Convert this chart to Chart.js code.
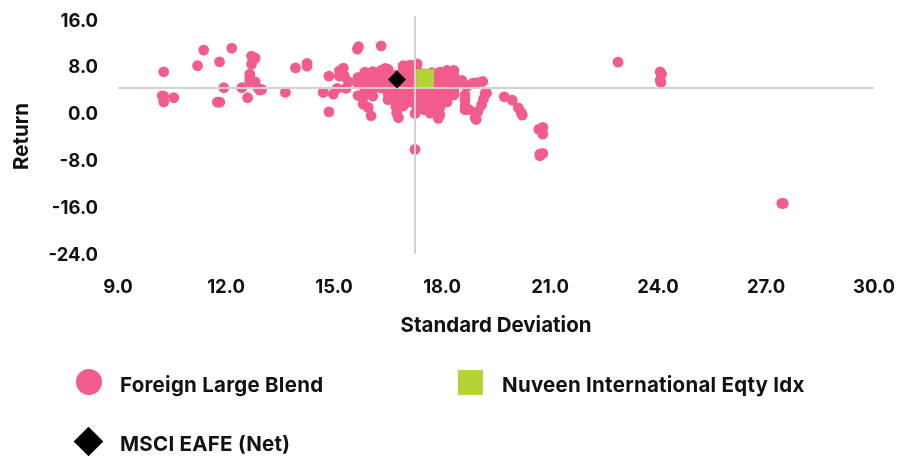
<!DOCTYPE html>
<html>
<head>
<meta charset="utf-8">
<title>Risk and return</title>
<script src="https://cdn.jsdelivr.net/npm/chart.js@4/dist/chart.umd.min.js"></script>
<style>
  html, body { margin: 0; background: #fff; }
  #wrap { position: relative; width: 897px; height: 456px; overflow: hidden; }
  #legend span { position: absolute; font: 700 20.5px Inter, sans-serif; letter-spacing: 0.25px; color: #111; line-height: 24px; white-space: nowrap; }
  #legend i { position: absolute; display: block; }
</style>
</head>
<body>
<div id="wrap">
  <canvas id="riskChart" width="897" height="456"></canvas>
  <div id="legend"></div>
</div>
<script>
const pink = '#f25c8c';
const green = '#b5d334';
const black = '#000000';
const grey = '#d2d2d2';

const seriesNames = ['Foreign Large Blend', 'Nuveen International Eqty Idx', 'MSCI EAFE (Net)'];

// peer group (std dev, return)
const peerDev = [
  10.27, 10.23, 10.27, 10.27, 10.55, 11.21, 11.38, 11.82, 12.16, 11.94, 11.76, 11.83,
  12.44, 12.6, 12.71, 12.81, 12.71, 12.66, 12.66, 12.66, 12.81, 12.94, 12.9, 12.99,
  13.65, 13.93, 14.25, 14.25, 14.7, 14.86, 14.86, 14.98, 15.09, 15.15, 15.26, 15.15,
  15.29, 15.4, 15.33, 15.68, 15.65, 16.31, 15.81, 15.95, 16.03, 16.42,
  15.67, 15.67, 15.67,
  15.86, 15.86, 15.86, 15.86, 15.86,
  16.08, 16.08, 16.08, 16.08, 16.08,
  16.31, 16.31, 16.31, 16.31, 16.31,
  16.5, 16.5, 16.5, 16.5, 16.5, 16.5,
  16.72, 16.72, 16.72, 16.72, 16.72, 16.72,
  16.92, 16.92, 16.92, 16.92, 16.92, 16.92, 16.92, 16.92,
  17.11, 17.11, 17.11, 17.11, 17.11, 17.11, 17.11,
  17.31, 17.31, 17.31, 17.31, 17.31, 17.31, 17.31, 17.31,
  17.5, 17.5, 17.5, 17.5, 17.5,
  17.72, 17.72, 17.72, 17.72, 17.72, 17.72, 17.72,
  17.94, 17.94, 17.94, 17.94, 17.94, 17.94, 17.94,
  18.14, 18.14, 18.14, 18.14, 18.14, 18.14,
  18.33, 18.33, 18.33, 18.33, 18.33,
  18.53, 18.55,
  15.97, 15.97, 15.97, 16.2, 16.2, 16.2, 16.41, 16.6, 16.6, 16.82, 16.82, 17.2,
  17.2, 17.4, 17.4, 17.6, 17.6, 17.83, 17.83, 18.04, 18.04, 18.04, 18.24, 18.24,
  18.64, 18.64, 18.64, 18.64, 18.75, 18.92, 18.95, 19.0, 19.1, 19.15, 19.24, 19.2,
  18.7, 18.86, 18.97, 19.13, 18.65,
  16.79, 16.74, 17.25, 17.25, 17.67, 17.9,
  19.73, 19.95, 20.12, 20.23, 20.2,
  20.69, 20.8, 20.8, 20.72, 20.72, 20.8,
  22.89, 24.06, 24.1, 24.06, 24.08, 27.44, 27.48
];
const peerRet = [
  7.06, 2.96, 1.93, 2.9, 2.62, 8.09, 10.77, 8.77, 11.11, 4.33, 1.88, 1.88,
  4.33, 2.62, 9.74, 9.4, 8.38, 6.67, 5.93, 5.35, 5.35, 3.93, 4.22, 4.05,
  3.54, 7.74, 8.5, 8.03, 3.54, 6.32, 0.22, 3.25, 4.22, 7.23, 7.69, 6.32,
  6.32, 5.35, 4.22, 11.34, 10.94, 11.5, 1.54, 0.97, -0.46, 7.64,
  3.0, 5.0, 6.1,
  3.0, 4.2, 5.4, 6.3, 7.0,
  2.9, 4.1, 5.2, 6.1, 7.1,
  4.3, 4.6, 5.0, 6.2, 7.3,
  2.3, 3.4, 4.6, 5.7, 6.6, 7.5,
  1.1, 2.0, 3.2, 4.4, 5.2, 6.5,
  1.2, 1.5, 2.7, 3.8, 4.9, 6.1, 7.3, 8.1,
  1.9, 2.2, 3.3, 4.5, 5.7, 6.8, 8.2,
  1.0, 2.0, 3.2, 4.4, 5.3, 6.5, 7.2, 8.4,
  0.6, 1.8, 2.9, 4.1, 6.7,
  0.2, 1.2, 2.4, 3.6, 4.8, 6.0, 6.9,
  -0.3, 0.9, 2.1, 3.4, 4.7, 5.9, 7.0,
  1.9, 3.0, 4.2, 5.4, 6.5, 7.3,
  3.1, 3.8, 5.0, 6.3, 7.3,
  5.0, 5.6,
  3.6, 4.8, 5.8, 4.7, 5.6, 6.6, 5.5, 3.0, 4.0, 2.4, 3.4, 2.7,
  3.9, 2.5, 3.8, 2.4, 3.5, 3.0, 4.2, 2.7, 4.0, 5.3, 3.6, 4.8,
  3.1, 2.2, 1.2, 0.6, 0.6, -0.8, -1.1, 0.3, 1.4, 2.4, 3.4, 3.4,
  4.6, 5.1, 5.2, 5.4, 4.8,
  -0.8, 0.0, -0.05, -6.2, 0.0, -0.9,
  2.79, 2.22, 0.91, -0.34, 0.1,
  -2.79, -2.45, -3.6, -7.3, -7.0, -6.89,
  8.72, 7.06, 6.67, 5.64, 5.25, -15.44, -15.44
];

const fundDev = [17.53];
const fundRet = [5.98];
const indexDev = [16.75];
const indexRet = [5.76];

// crosshair at the peer medians, the vertical one pokes a bit above the top tick
const medianDev = 17.25;
const medianRet = 4.3;
const medianTop = 16.6;

const xTicks = [9, 12, 15, 18, 21, 24, 27, 30];
const yTicks = [16, 8, 0, -8, -16, -24];

const toPoints = (xs, ys) => xs.map((x, i) => ({ x: x, y: ys[i] }));
const tickFont = { family: 'Inter, sans-serif', size: 18.5, weight: '700' };
const titleFont = { family: 'Inter, sans-serif', size: 20.5, weight: '700' };

// the reference type runs wider than Inter
const widerText = {
    id: 'widerText',
    beforeInit: function (chart) { chart.ctx.letterSpacing = '0.5px'; }
};

new Chart(document.getElementById('riskChart').getContext('2d'), {
    type: 'scatter',
    plugins: [widerText],
    data: {
        datasets: [
            { label: seriesNames[2], data: toPoints(indexDev, indexRet), pointStyle: 'rectRot', pointRadius: 9, backgroundColor: black, borderColor: black, borderWidth: 0, order: 1 },
            { label: seriesNames[1], data: toPoints(fundDev, fundRet), pointStyle: 'rect', pointRadius: 12.5, backgroundColor: green, borderColor: green, borderWidth: 0, order: 2 },
            { label: 'Median return', data: [{ x: xTicks[0], y: medianRet }, { x: xTicks[xTicks.length - 1], y: medianRet }], showLine: true, pointRadius: 0, borderColor: grey, borderWidth: 2, order: 3 },
            { label: 'Median deviation', data: [{ x: medianDev, y: medianTop }, { x: medianDev, y: yTicks[yTicks.length - 1] }], showLine: true, clip: false, pointRadius: 0, borderColor: grey, borderWidth: 2, order: 3 },
            { label: seriesNames[0], data: toPoints(peerDev, peerRet), pointStyle: 'circle', pointRadius: 5.4, backgroundColor: pink, borderColor: pink, borderWidth: 0, order: 4 }
        ]
    },
    options: {
        responsive: false,
        animation: false,
        plugins: { legend: { display: false }, tooltip: { enabled: false } },
        scales: {
            x: {
                type: 'linear',
                min: xTicks[0],
                max: xTicks[xTicks.length - 1],
                afterFit: function (scale) { scale.height = 202.5; scale.paddingRight = 23; scale.paddingLeft = 0; },
                afterBuildTicks: function (scale) { scale.ticks = xTicks.map(v => ({ value: v })); },
                grid: { display: false },
                border: { display: false },
                ticks: { color: '#111', font: tickFont, padding: 15, maxRotation: 0, callback: v => v.toFixed(1) },
                title: { display: true, text: 'Standard Deviation', color: '#111', font: titleFont, padding: { top: 0, bottom: 118 } }
            },
            y: {
                type: 'linear',
                min: yTicks[yTicks.length - 1],
                max: yTicks[0],
                afterFit: function (scale) { scale.width = 118; scale.paddingTop = 19.5; scale.paddingBottom = 0; },
                afterBuildTicks: function (scale) { scale.ticks = yTicks.map(v => ({ value: v })); },
                grid: { display: false },
                border: { display: false },
                ticks: { color: '#111', font: tickFont, padding: 12, labelOffset: 1.5, callback: v => v.toFixed(1) },
                title: { display: true, text: 'Return', color: '#111', font: titleFont, padding: { top: 10, bottom: 0 } }
            }
        }
    }
});

// legend sits in two columns, which the built-in one can't do
const legendBox = document.getElementById('legend');
const legendRows = [
    { name: seriesNames[0], textX: 120, textY: 373, css: 'left:76px;top:369px;width:26px;height:26px;border-radius:50%;background:' + pink },
    { name: seriesNames[1], textX: 502, textY: 373, css: 'left:458px;top:370px;width:25px;height:25px;background:' + green },
    { name: seriesNames[2], textX: 120, textY: 432, css: 'left:78px;top:431px;width:21px;height:21px;transform:rotate(45deg);background:' + black }
];
legendRows.forEach(function (row) {
    const mark = document.createElement('i');
    mark.style.cssText = row.css;
    legendBox.appendChild(mark);
    const text = document.createElement('span');
    text.textContent = row.name;
    text.style.left = row.textX + 'px';
    text.style.top = row.textY + 'px';
    legendBox.appendChild(text);
});
</script>
</body>
</html>
